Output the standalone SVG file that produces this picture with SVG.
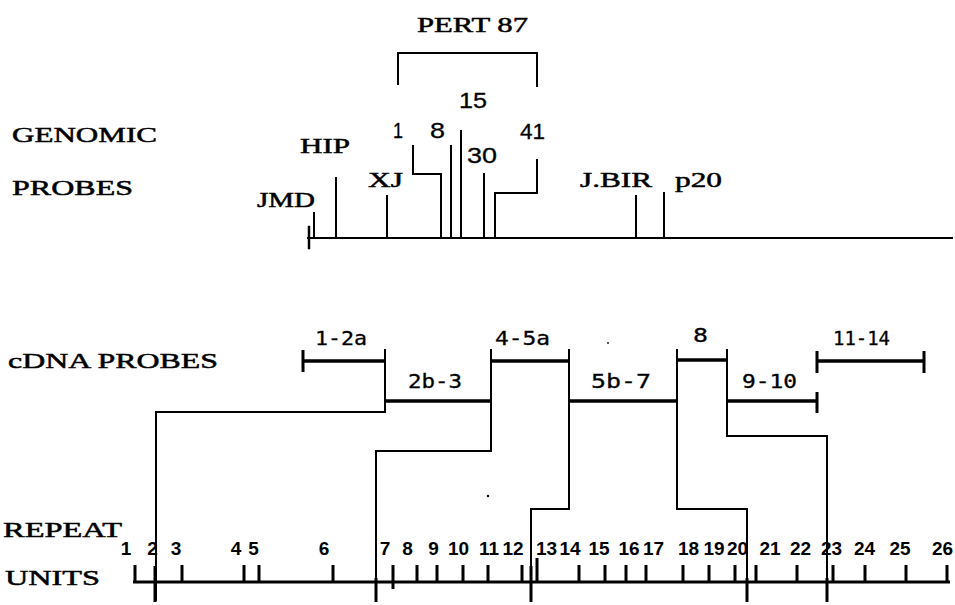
<svg xmlns="http://www.w3.org/2000/svg" width="955" height="605" viewBox="0 0 955 605">
<style>
.bg{fill:#fff}
.ln{fill:none;stroke:#000;stroke-width:2;stroke-linecap:square}
.bar{fill:none;stroke:#000;stroke-width:3.5;stroke-linecap:butt}
.tk{fill:none;stroke:#000;stroke-width:3}
.lbl{font-family:"Liberation Serif",serif;font-size:22px;fill:#000;stroke:#000;stroke-width:0.5}
.num{font-family:"Liberation Sans",sans-serif;font-size:22px;fill:#000;stroke:#000;stroke-width:0.3}
.cd{font-family:"DejaVu Sans Mono",monospace;font-size:19px;fill:#000;stroke:#000;stroke-width:0.3}
.ru{font-family:"Liberation Sans",sans-serif;font-size:19px;font-weight:bold;fill:#000;text-anchor:middle}
</style>
<rect class="bg" x="0" y="0" width="955" height="605"/>

<g id="side-labels">
<text class="lbl" x="12" y="142" textLength="145" lengthAdjust="spacingAndGlyphs">GENOMIC</text>
<text class="lbl" x="12" y="195" textLength="121" lengthAdjust="spacingAndGlyphs">PROBES</text>
<text class="lbl" x="8" y="368" textLength="210" lengthAdjust="spacingAndGlyphs">cDNA PROBES</text>
<text class="lbl" x="3" y="537" textLength="119" lengthAdjust="spacingAndGlyphs">REPEAT</text>
<text class="lbl" x="5" y="585" textLength="95" lengthAdjust="spacingAndGlyphs">UNITS</text>
</g>

<g id="genomic-map">
<path class="ln" d="M308 238H952"/>
<path class="ln" d="M309 227V248" style="stroke-width:2.5"/>
</g>

<g id="pert87">
<text class="lbl" x="417" y="32" textLength="111" lengthAdjust="spacingAndGlyphs">PERT 87</text>
<path class="ln" d="M398 84V53H537V86"/>
</g>

<g id="probe-JMD"><text class="lbl" x="257" y="207" textLength="58" lengthAdjust="spacingAndGlyphs">JMD</text><path class="ln" d="M314 213V238"/></g>
<g id="probe-HIP"><text class="lbl" x="300" y="153" textLength="50" lengthAdjust="spacingAndGlyphs">HIP</text><path class="ln" d="M336 178V238"/></g>
<g id="probe-XJ"><text class="lbl" x="368" y="187" textLength="35" lengthAdjust="spacingAndGlyphs">XJ</text><path class="ln" d="M387 196V238"/></g>
<g id="probe-1"><text class="num" x="393" y="138" textLength="10" lengthAdjust="spacingAndGlyphs">1</text><path class="ln" d="M413 146V174H441V238"/></g>
<g id="probe-8"><text class="num" x="430" y="138" textLength="15" lengthAdjust="spacingAndGlyphs">8</text><path class="ln" d="M451 146V238"/></g>
<g id="probe-15"><text class="num" x="459" y="108" textLength="28" lengthAdjust="spacingAndGlyphs">15</text><path class="ln" d="M461 131V238"/></g>
<g id="probe-30"><text class="num" x="467" y="163" textLength="30" lengthAdjust="spacingAndGlyphs">30</text><path class="ln" d="M484 174V238"/></g>
<g id="probe-41"><text class="num" x="520" y="139" textLength="25" lengthAdjust="spacingAndGlyphs">41</text><path class="ln" d="M537 160V193H495V238"/></g>
<g id="probe-JBIR"><text class="lbl" x="580" y="187" textLength="72" lengthAdjust="spacingAndGlyphs">J.BIR</text><path class="ln" d="M636 196V238"/></g>
<g id="probe-p20"><text class="lbl" x="675" y="187" textLength="47" lengthAdjust="spacingAndGlyphs">p20</text><path class="ln" d="M664 193V238"/></g>

<g id="cdna-1-2a"><text class="cd" x="315" y="345" textLength="52" lengthAdjust="spacingAndGlyphs">1-2a</text><path class="bar" d="M303 361H385"/><path class="tk" d="M303 350V372"/></g>
<g id="cdna-2b-3"><text class="cd" x="408" y="388" textLength="54" lengthAdjust="spacingAndGlyphs">2b-3</text><path class="bar" d="M385 401H491"/></g>
<g id="cdna-4-5a"><text class="cd" x="495" y="345" textLength="55" lengthAdjust="spacingAndGlyphs">4-5a</text><path class="bar" d="M491 361H569"/></g>
<g id="cdna-5b-7"><text class="cd" x="591" y="388" textLength="60" lengthAdjust="spacingAndGlyphs">5b-7</text><path class="bar" d="M569 401H677"/></g>
<g id="cdna-8"><text class="cd" x="693" y="342" textLength="15" lengthAdjust="spacingAndGlyphs">8</text><path class="bar" d="M677 360H727"/></g>
<g id="cdna-9-10"><text class="cd" x="742" y="388" textLength="55" lengthAdjust="spacingAndGlyphs">9-10</text><path class="bar" d="M727 401H817"/><path class="tk" d="M817 392V413"/></g>
<g id="cdna-11-14"><text class="cd" x="833" y="345" textLength="57" lengthAdjust="spacingAndGlyphs">11-14</text><path class="bar" d="M817 361H924"/><path class="tk" d="M817 351V373M924 351V373"/></g>

<g id="connectors">
<path class="ln" d="M385 350V412H156V600"/>
<path class="ln" d="M491 350V451H376V600"/>
<path class="ln" d="M569 350V509H531V600"/>
<path class="ln" d="M677 350V509H747V600"/>
<path class="ln" d="M727 350V436H827V600"/>
<path class="tk" d="M155 566V602M376 578V602M531 566V602M747 578V602M827 578V602"/>
</g>

<g id="repeat-units">
<path class="tk" d="M133 582H950"/>
<path class="tk" d="M135 565V582M182 565V582M244 565V582M259 565V582M333 565V582M393 565V589M417 565V582M437 565V582M463 565V582M488 565V582M522 565V582M537 558V582M579 565V582M605 565V582M626 565V582M646 565V582M683 565V582M709 565V582M735 565V582M756 565V582M797 565V582M833 565V582M865 565V582M906 565V582M947 565V582"/>
<text class="ru" x="126" y="555">1</text>
<text class="ru" x="152.5" y="555">2</text>
<text class="ru" x="176" y="555">3</text>
<text class="ru" x="236" y="555">4</text>
<text class="ru" x="253.5" y="555">5</text>
<text class="ru" x="324" y="555">6</text>
<text class="ru" x="385" y="555">7</text>
<text class="ru" x="407.5" y="555">8</text>
<text class="ru" x="433.5" y="555">9</text>
<text class="ru" x="458.5" y="555">10</text>
<text class="ru" x="489" y="555">11</text>
<text class="ru" x="513" y="555">12</text>
<text class="ru" x="546.5" y="555">13</text>
<text class="ru" x="570" y="555">14</text>
<text class="ru" x="599" y="555">15</text>
<text class="ru" x="629" y="555">16</text>
<text class="ru" x="653.5" y="555">17</text>
<text class="ru" x="688.5" y="555">18</text>
<text class="ru" x="714" y="555">19</text>
<text class="ru" x="737.5" y="555">20</text>
<text class="ru" x="770" y="555">21</text>
<text class="ru" x="800.5" y="555">22</text>
<text class="ru" x="831.5" y="555">23</text>
<text class="ru" x="864.5" y="555">24</text>
<text class="ru" x="900" y="555">25</text>
<text class="ru" x="942.5" y="555">26</text>
</g>

<g id="specks">
<circle cx="488" cy="496" r="1.2" fill="#000"/>
<circle cx="608" cy="343" r="0.9" fill="#000"/>
</g>
</svg>
